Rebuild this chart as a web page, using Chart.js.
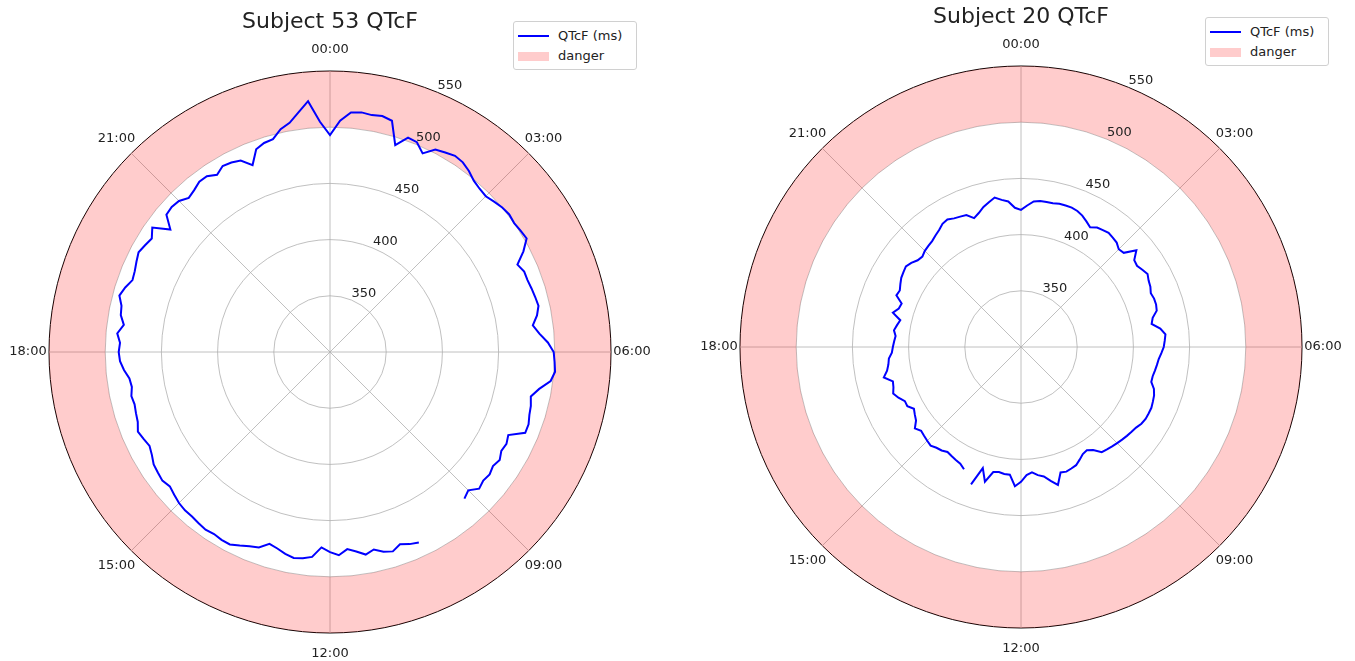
<!DOCTYPE html>
<html>
<head>
<meta charset="utf-8">
<title>QTcF polar</title>
<script src="https://cdn.jsdelivr.net/npm/chart.js@4.4.0/dist/chart.umd.min.js"></script>
<style>
  body { margin: 0; background: #fff; font-family: 'DejaVu Sans', sans-serif; }
  .wrap { position: relative; width: 1355px; height: 661px; overflow: hidden; }
  .box { position: absolute; }
  .legend { position: absolute; width: 122px; height: 47px; border: 1px solid #d0d0d0; border-radius: 3px; background: #fff; font-size: 13px; color: #222; }
  .legend .txt { position: absolute; left: 44px; line-height: 16px; white-space: nowrap; }
  .legend .line { position: absolute; left: 4px; top: 13px; width: 31px; height: 2px; background: #0000ff; }
  .legend .patch { position: absolute; left: 4px; top: 30px; width: 31px; height: 9px; background: rgba(255, 0, 0, 0.2); }
</style>
</head>
<body>
<div class="wrap">
  <div class="box" style="left:0; top:0;"><canvas id="leftChart" width="660" height="661"></canvas></div>
  <div class="box" style="left:691px; top:-5px;"><canvas id="rightChart" width="660" height="661"></canvas></div>

  <div class="legend" style="left:513px; top:21px;">
    <div class="line"></div><div class="txt" style="top:6px;">QTcF (ms)</div>
    <div class="patch"></div><div class="txt" style="top:26px;">danger</div>
  </div>
  <div class="legend" style="left:1205px; top:17px;">
    <div class="line"></div><div class="txt" style="top:6px;">QTcF (ms)</div>
    <div class="patch"></div><div class="txt" style="top:26px;">danger</div>
  </div>
</div>

<script>
// time of day, one category every 10 minutes
const timeLabels = [];
for (let m = 0; m < 24 * 60; m += 10) {
    timeLabels.push(String(Math.floor(m / 60)).padStart(2, '0') + ':' + String(m % 60).padStart(2, '0'));
}
const hourLabels = ['00:00', '03:00', '06:00', '09:00', '12:00', '15:00', '18:00', '21:00'];
const rTicks = [350, 400, 450, 500, 550];

// danger band limits (ms)
const dangerMin = 500;
const dangerMax = 550;

// Subject 53, QTcF in ms (null = no recording)
const subject53 = [
    493, 506, 514, 515, 514, 515, 513, 493, 503, 502, 495, 503,
    505, 507, 506, 503, 499, 497, 496, 498, 500, 501, 500, 501,
    502, 494, 484, 487, 487, 488, 489, 490, 487, 482, 487, 494,
    499, 500, 501, 498, 489, 483, 485, 486, 488, 488, 475, 477,
    476, 479, 477, 479, 478, 480, 474, 477, null, null, null, null,
    null, null, 487, 485, 482, 486, 484, 480, 483, 479, 476, 481,
    478, 474, 483, 485, 486, 484, 481, 479, 485, 487, 490, 493,
    493, 492, 493, 492, 491, 491, 490, 488, 486, 488, 487, 486,
    483, 481, 483, 485, 482, 481, 480, 481, 479, 480, 484, 487,
    488, 487, 490, 485, 489, 490, 494, 491, 487, 488, 490, 492,
    490, 488, 493, 479, 490, 491, 490, 486, 488, 491, 491, 487,
    491, 490, 488, 480, 492, 495, 496, 503, 507, 515, 524, 505,
];

// Subject 20, QTcF in ms
const subject20 = [
    422, 426, 430, 431, 431, 431, 432, 432, 432, 431, 429, 426,
    423, 426, 427, 428, 427, 426, 423, 424, 434, 427, 426, 428,
    430, 428, 427, 425, 426, 426, 425, 420, 418, 425, 429, 428,
    427, 425, 423, 422, 421, 420, 420, 424, 426, 427, 428, 428,
    428, 427, 425, 424, 423, 422, 421, 420, 419, 418, 412, 409,
    410, 413, 416, 417, 418, 417, 427, 422, 417, 415, 412, 414,
    420, 424, 414, 414, 413, 414, 424, 413, 430, null, 420, 417,
    416, 415, 414, 416, 417, 419, 418, 417, 416, 419, 414, 412,
    410, 414, 414, 418, 421, 419, 418, 425, 421, 419, 418, 415,
    414, 413, 412, 414, 412, 410, 418, 414, 413, 420, 419, 421,
    423, 424, 425, 423, 420, 419, 421, 422, 423, 425, 427, 430,
    431, 429, 428, 427, 422, 425, 429, 432, 435, 432, 430, 424,
];

const dangerTop = timeLabels.map(() => dangerMax);
const dangerBottom = timeLabels.map(() => dangerMin);

// hour labels round the rim and radial labels along 01:30, matplotlib style
const polarLabels = {
    id: 'polarLabels',
    afterDatasetsDraw(chart) {
        const r = chart.scales.r;
        const ctx = chart.ctx;
        ctx.save();
        ctx.font = '13px "DejaVu Sans"';
        ctx.fillStyle = '#222';
        ctx.textAlign = 'center';
        ctx.textBaseline = 'middle';
        timeLabels.forEach((t, i) => {
            if (hourLabels.includes(t)) {
                const p = r.getPointPosition(i, r.drawingArea + 21);
                ctx.fillText(t, p.x, p.y);
            }
        });
        ctx.textAlign = 'left';
        ctx.textBaseline = 'bottom';
        const at = timeLabels.indexOf('01:30');
        rTicks.forEach(v => {
            const p = r.getPointPosition(at, r.getDistanceFromCenterForValue(v));
            ctx.fillText(String(v), p.x, p.y);
        });
        ctx.restore();
    }
};

function makeChart(id, title, values) {
    return new Chart(document.getElementById(id), {
        type: 'radar',
        data: {
            labels: timeLabels,
            datasets: [{
                label: 'QTcF (ms)',
                data: values,
                borderColor: '#0000ff',
                borderWidth: 2,
                pointRadius: 0,
                fill: false,
                spanGaps: false,
            }, {
                label: 'danger',
                data: dangerTop,
                borderColor: 'transparent',
                borderWidth: 0,
                pointRadius: 0,
                backgroundColor: 'rgba(255, 0, 0, 0.2)',
                fill: '+1',
            }, {
                label: 'danger low',
                data: dangerBottom,
                borderColor: 'transparent',
                borderWidth: 0,
                pointRadius: 0,
                fill: false,
            }],
        },
        options: {
            responsive: false,
            animation: false,
            events: [],
            layout: { padding: { left: 30, right: 30, top: 0, bottom: 28 } },
            plugins: {
                legend: { display: false },
                tooltip: { enabled: false },
                title: {
                    display: true,
                    text: title,
                    color: '#222',
                    font: { family: 'DejaVu Sans', size: 22, weight: 'normal' },
                    padding: { top: 9, bottom: 35.6 },
                },
            },
            scales: {
                r: {
                    min: 300,
                    max: 550,
                    ticks: { display: false, stepSize: 50 },
                    pointLabels: { display: false },
                    grid: {
                        circular: true,
                        color: c => (c.tick && c.tick.value === 550 ? '#000' : '#b0b0b0'),
                        lineWidth: c => (c.tick && c.tick.value === 550 ? 1 : 0.8),
                    },
                    angleLines: {
                        color: '#b0b0b0',
                        lineWidth: c => (hourLabels.includes(timeLabels[c.index]) ? 0.8 : 0),
                    },
                },
            },
        },
        plugins: [polarLabels],
    });
}

makeChart('leftChart', 'Subject 53 QTcF', subject53);
makeChart('rightChart', 'Subject 20 QTcF', subject20);
</script>
</body>
</html>
